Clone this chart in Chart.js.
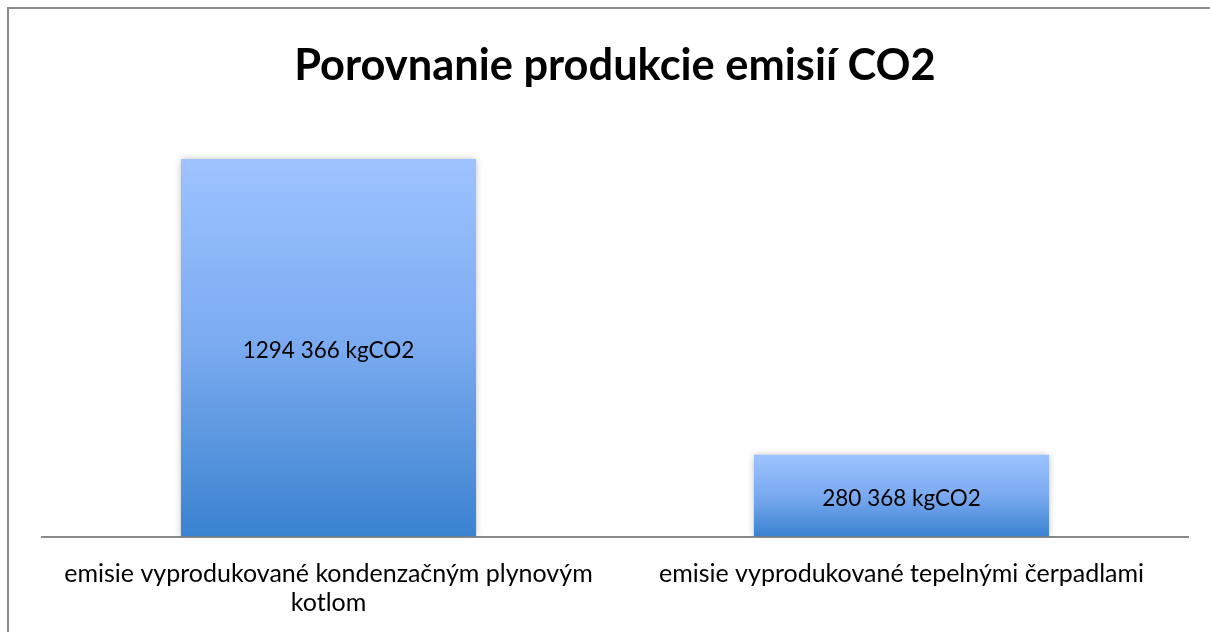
<!DOCTYPE html>
<html>
<head>
<meta charset="utf-8">
<script src="https://cdn.jsdelivr.net/npm/chart.js@4"></script>
<style>
  html, body { margin: 0; padding: 0; background: #fff; overflow: hidden; }
  #wrap { position: relative; width: 1210px; height: 632px; overflow: hidden; }
  canvas { position: absolute; left: 0; top: 0; }
</style>
</head>
<body>
<div id="wrap">
  <canvas id="graf" width="1210" height="640"></canvas>
</div>
<script>
    // ---------- DATA ----------
    const kategorie = [
        ["emisie vyprodukované kondenzačným plynovým", "kotlom"],
        "emisie vyprodukované tepelnými čerpadlami"
    ];
    const emisie = [1294366, 280368];
    const jednotka = "kgCO2";
    const osY = { min: 0, max: 1400000 };

    const FONT = "Lato, Carlito, Calibri, 'Noto Sans', sans-serif";

    // tisice oddelene medzerou len pri poslednej trojici (ako v povodnom grafe: "1294 366")
    function formatCislo(v) {
        const tis = Math.floor(v / 1000);
        const zvysok = String(v % 1000).padStart(3, "0");
        return tis > 0 ? tis + " " + zvysok : String(v);
    }

    // gradient pre kazdy stlpec zvlast (svetla hore, tmavsia dole)
    function farbaStlpca(context) {
        const chart = context.chart;
        const y = chart.scales.y;
        if (!chart.chartArea || !y || context.raw === undefined) return "#6fa3ec";
        const top = y.getPixelForValue(context.raw);
        const bottom = y.getPixelForValue(0);
        if (!isFinite(top) || !isFinite(bottom) || top === bottom) return "#6fa3ec";
        const g = chart.ctx.createLinearGradient(0, top, 0, bottom);
        g.addColorStop(0, "#9dc3ff");
        g.addColorStop(0.5, "#7aaaf0");
        g.addColorStop(1, "#3a82d0");
        return g;
    }

    // ramik grafu (vidno len lavu a hornu hranu, zvysok je orezany)
    const ramikPlugin = {
        id: "ramik",
        beforeDraw(chart) {
            const ctx = chart.ctx;
            ctx.save();
            ctx.fillStyle = "#fff";
            ctx.fillRect(0, 0, chart.width, chart.height);
            ctx.strokeStyle = "#898989";
            ctx.lineWidth = 2;
            ctx.beginPath();
            ctx.moveTo(8, chart.height + 5);
            ctx.lineTo(8, 8);
            ctx.lineTo(chart.width + 5, 8);
            ctx.stroke();
            ctx.restore();
        },
        afterDraw(chart) {
            // prava strana bez ramu
            const ctx = chart.ctx;
            ctx.save();
            ctx.fillStyle = "#fff";
            ctx.fillRect(chart.width - 14, 9, 14, chart.height);
            ctx.restore();
        }
    };

    // tien okolo stlpcov
    const tienPlugin = {
        id: "tien",
        beforeDatasetsDraw(chart) {
            const ctx = chart.ctx;
            ctx.save();
            ctx.shadowColor = "rgba(0,0,0,0.28)";
            ctx.shadowBlur = 7;
            ctx.shadowOffsetX = 0;
            ctx.shadowOffsetY = 0;
        },
        afterDatasetsDraw(chart) {
            chart.ctx.restore();
        }
    };

    // popisky hodnot v strede stlpca
    const popiskyPlugin = {
        id: "popisky",
        afterDatasetsDraw(chart) {
            const ctx = chart.ctx;
            const meta = chart.getDatasetMeta(0);
            ctx.save();
            ctx.font = "22.5px " + FONT;
            ctx.fillStyle = "#000";
            ctx.textAlign = "center";
            ctx.textBaseline = "middle";
            meta.data.forEach((bar, i) => {
                const stred = (bar.y + bar.base) / 2;
                ctx.fillText(formatCislo(emisie[i]) + " " + jednotka, bar.x, stred + 3);
            });
            ctx.restore();
        }
    };

    new Chart(document.getElementById("graf"), {
        type: "bar",
        data: {
            labels: kategorie,
            datasets: [{
                label: "Emisie CO2",
                data: emisie,
                backgroundColor: farbaStlpca,
                borderWidth: 0,
                categoryPercentage: 1,
                barPercentage: 0.515
            }]
        },
        options: {
            responsive: false,
            animation: false,
            events: [],
            layout: { padding: { top: 40, left: 42, right: 22, bottom: 0 } },
            plugins: {
                legend: { display: false },
                tooltip: { enabled: false },
                title: {
                    display: true,
                    text: "Porovnanie produkcie emisií CO2",
                    color: "#000",
                    font: { family: FONT, size: 43.4, weight: "bold", lineHeight: 1.2 },
                    padding: { top: 0, bottom: 36 }
                }
            },
            scales: {
                x: {
                    grid: { display: false, drawTicks: false },
                    border: { display: true, color: "#898989", width: 2 },
                    ticks: {
                        color: "#000",
                        padding: 23,
                        maxRotation: 0,
                        autoSkip: false,
                        font: { family: FONT, size: 25, lineHeight: 1.15 }
                    }
                },
                y: {
                    display: false,
                    min: osY.min,
                    max: osY.max
                }
            }
        },
        plugins: [ramikPlugin, tienPlugin, popiskyPlugin]
    });
</script>
</body>
</html>
